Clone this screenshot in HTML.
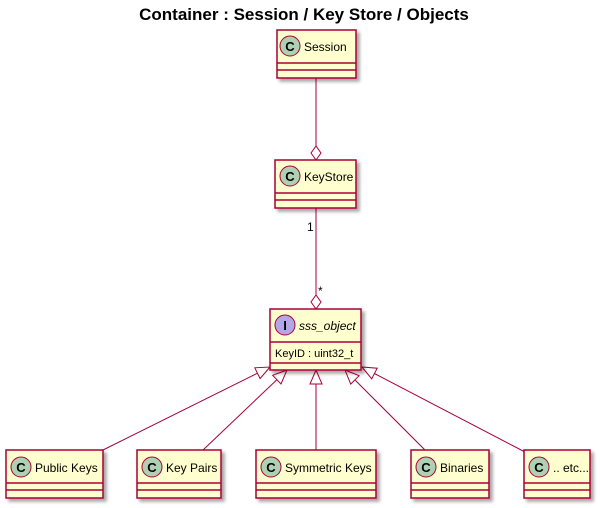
<!DOCTYPE html>
<html><head><meta charset="utf-8"><style>
body{margin:0;background:#fff}
svg{display:block;font-family:"Liberation Sans",sans-serif}
</style></head><body>
<svg width="600" height="508" viewBox="0 0 600 508" xmlns="http://www.w3.org/2000/svg">
<defs><filter id="s" x="-10%" y="-10%" width="130%" height="140%"><feDropShadow dx="3" dy="3" stdDeviation="1.5" flood-color="#000" flood-opacity="0.35"/></filter></defs>
<text x="304" y="20" text-anchor="middle" font-size="17" font-weight="bold">Container : Session / Key Store / Objects</text>
<g stroke="#A80036" fill="none" stroke-width="1">
<line x1="316" y1="78" x2="316" y2="146"/>
<polygon points="316,160 311,153 316,146 321,153" fill="#fff"/>
<line x1="316" y1="208" x2="316" y2="295"/>
<polygon points="316,309 311,302 316,295 321,302" fill="#fff"/>
<line x1="257.5" y1="373.2" x2="103" y2="450"/>
<polygon points="270,367 260.1,378.6 254.8,367.8" fill="#fff"/>
<line x1="276.9" y1="379.7" x2="203" y2="450"/>
<polygon points="287,370 281,384 272.7,375.3" fill="#fff"/>
<line x1="316" y1="384" x2="316" y2="450"/>
<polygon points="316,370 310,384 322,384" fill="#fff"/>
<line x1="354.9" y1="379.9" x2="425" y2="450"/>
<polygon points="345,370 350.7,384.1 359.1,375.7" fill="#fff"/>
<line x1="374.4" y1="373.5" x2="525" y2="452"/>
<polygon points="362,367 371.7,378.8 377.2,368.2" fill="#fff"/>
</g>
<text x="307" y="231" font-size="12">1</text>
<text x="318" y="295" font-size="12">*</text>
<g font-size="12">
<g><rect x="277" y="30" width="79" height="48" fill="#FEFECE" stroke="#A80036" stroke-width="1.5" filter="url(#s)"/>
<line x1="277" y1="63" x2="356" y2="63" stroke="#A80036" stroke-width="1.5"/><line x1="277" y1="70" x2="356" y2="70" stroke="#A80036" stroke-width="1.5"/>
<circle cx="290" cy="46" r="10" fill="#ADD1B2" stroke="#A80036"/><text x="290" y="51" text-anchor="middle" font-weight="bold" font-size="13">C</text>
<text x="304" y="51">Session</text></g>
<g><rect x="275" y="160" width="81" height="48" fill="#FEFECE" stroke="#A80036" stroke-width="1.5" filter="url(#s)"/>
<line x1="275" y1="193" x2="356" y2="193" stroke="#A80036" stroke-width="1.5"/><line x1="275" y1="200" x2="356" y2="200" stroke="#A80036" stroke-width="1.5"/>
<circle cx="290" cy="176" r="10" fill="#ADD1B2" stroke="#A80036"/><text x="290" y="181" text-anchor="middle" font-weight="bold" font-size="13">C</text>
<text x="304" y="181">KeyStore</text></g>
<g><rect x="270" y="309" width="91" height="61" fill="#FEFECE" stroke="#A80036" stroke-width="1.5" filter="url(#s)"/>
<line x1="270" y1="342" x2="361" y2="342" stroke="#A80036" stroke-width="1.5"/><line x1="270" y1="363" x2="361" y2="363" stroke="#A80036" stroke-width="1.5"/>
<circle cx="285" cy="325" r="10" fill="#B4A7E5" stroke="#A80036"/><text x="285" y="330" text-anchor="middle" font-weight="bold" font-size="13">I</text>
<text x="299" y="330" font-style="italic">sss_object</text>
<text x="275" y="357" font-size="11">KeyID : uint32_t</text></g>
<g><rect x="6" y="450" width="97" height="48" fill="#FEFECE" stroke="#A80036" stroke-width="1.5" filter="url(#s)"/>
<line x1="6" y1="483" x2="103" y2="483" stroke="#A80036" stroke-width="1.5"/><line x1="6" y1="490" x2="103" y2="490" stroke="#A80036" stroke-width="1.5"/>
<circle cx="21" cy="467" r="10" fill="#ADD1B2" stroke="#A80036"/><text x="21" y="472" text-anchor="middle" font-weight="bold" font-size="13">C</text>
<text x="35" y="472">Public Keys</text></g>
<g><rect x="137" y="450" width="84" height="48" fill="#FEFECE" stroke="#A80036" stroke-width="1.5" filter="url(#s)"/>
<line x1="137" y1="483" x2="221" y2="483" stroke="#A80036" stroke-width="1.5"/><line x1="137" y1="490" x2="221" y2="490" stroke="#A80036" stroke-width="1.5"/>
<circle cx="152" cy="467" r="10" fill="#ADD1B2" stroke="#A80036"/><text x="152" y="472" text-anchor="middle" font-weight="bold" font-size="13">C</text>
<text x="166" y="472">Key Pairs</text></g>
<g><rect x="256" y="450" width="120" height="48" fill="#FEFECE" stroke="#A80036" stroke-width="1.5" filter="url(#s)"/>
<line x1="256" y1="483" x2="376" y2="483" stroke="#A80036" stroke-width="1.5"/><line x1="256" y1="490" x2="376" y2="490" stroke="#A80036" stroke-width="1.5"/>
<circle cx="271" cy="467" r="10" fill="#ADD1B2" stroke="#A80036"/><text x="271" y="472" text-anchor="middle" font-weight="bold" font-size="13">C</text>
<text x="285" y="472">Symmetric Keys</text></g>
<g><rect x="411" y="450" width="78" height="48" fill="#FEFECE" stroke="#A80036" stroke-width="1.5" filter="url(#s)"/>
<line x1="411" y1="483" x2="489" y2="483" stroke="#A80036" stroke-width="1.5"/><line x1="411" y1="490" x2="489" y2="490" stroke="#A80036" stroke-width="1.5"/>
<circle cx="426" cy="467" r="10" fill="#ADD1B2" stroke="#A80036"/><text x="426" y="472" text-anchor="middle" font-weight="bold" font-size="13">C</text>
<text x="440" y="472">Binaries</text></g>
<g><rect x="524" y="450" width="66" height="48" fill="#FEFECE" stroke="#A80036" stroke-width="1.5" filter="url(#s)"/>
<line x1="524" y1="483" x2="590" y2="483" stroke="#A80036" stroke-width="1.5"/><line x1="524" y1="490" x2="590" y2="490" stroke="#A80036" stroke-width="1.5"/>
<circle cx="539" cy="467" r="10" fill="#ADD1B2" stroke="#A80036"/><text x="539" y="472" text-anchor="middle" font-weight="bold" font-size="13">C</text>
<text x="553" y="472">.. etc...</text></g>
</g>
</svg>
</body></html>
